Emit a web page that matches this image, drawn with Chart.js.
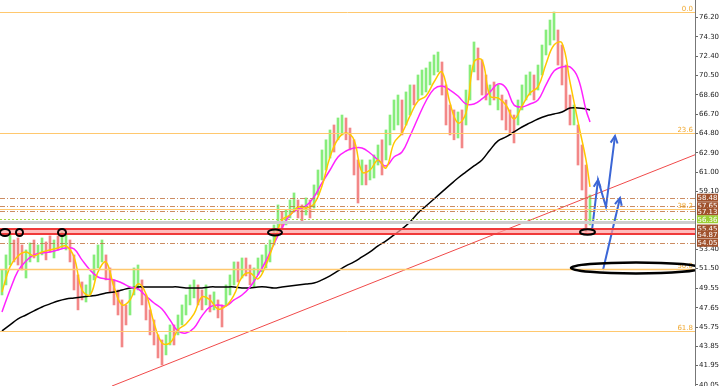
<!DOCTYPE html>
<html>
<head>
<meta charset="utf-8">
<script src="https://cdn.jsdelivr.net/npm/chart.js@4.4.1/dist/chart.umd.min.js"></script>
<style>
html,body{margin:0;padding:0;background:#fff;}
#c{display:block;}
</style>
</head>
<body>
<canvas id="c" width="720" height="386"></canvas>
<script>
// =====================
// DATA
// =====================

// one bar = low / high of a candle
let barLow = [
48.91,49.90,51.86,52.16,51.86,51.37,50.58,52.16,52.55,52.16,
52.85,52.36,53.14,52.55,53.34,53.54,53.34,52.16,49.40,47.44,
48.42,48.22,48.91,50.39,51.57,52.16,50.39,49.21,47.93,46.94,
43.79,45.96,46.94,48.91,49.40,47.93,46.45,44.98,43.99,42.71,
42.02,43.01,43.99,43.99,44.98,45.96,46.94,47.93,48.62,47.93,
47.44,47.93,47.24,47.44,46.65,45.76,47.93,48.91,49.90,50.19,
50.58,50.78,49.90,49.70,50.88,51.18,51.57,52.16,53.83,55.11,
55.50,55.80,56.49,57.08,56.49,56.10,56.78,56.49,57.47,58.75,
60.23,61.21,62.39,62.98,64.18,64.66,64.18,63.18,60.72,57.96,
59.74,59.74,60.23,60.42,61.70,60.72,62.20,63.67,65.15,65.64,
64.66,65.64,66.62,67.61,68.10,68.59,68.89,69.58,70.56,70.86,
68.59,65.64,64.66,64.18,64.36,63.38,65.64,68.10,70.86,70.07,
68.59,68.10,67.61,68.10,67.12,66.13,65.15,64.66,63.87,65.64,
67.12,68.10,68.59,68.10,69.08,70.56,72.53,73.51,74.00,71.54,
69.58,67.12,65.64,65.64,61.70,59.24,55.11,55.80
];
let barHigh = [
51.37,52.85,54.82,54.32,54.52,53.83,53.34,54.03,54.32,53.83,
54.52,54.13,54.72,54.32,54.72,55.11,54.82,54.32,52.85,50.88,
50.19,49.90,50.88,52.85,53.83,54.32,52.85,51.57,50.39,49.40,
48.42,47.93,49.40,51.57,51.86,50.39,48.91,47.44,46.45,44.98,
44.48,44.98,45.96,45.96,46.94,47.93,48.91,49.90,50.39,49.90,
49.40,49.90,48.91,49.21,48.42,47.93,49.90,50.88,52.16,52.16,
52.55,52.55,51.86,51.57,52.55,52.85,53.83,54.32,55.80,57.77,
57.08,57.28,58.26,58.95,58.26,57.77,58.46,58.26,59.74,61.21,
63.18,64.18,65.15,65.64,66.33,66.62,66.33,65.34,64.18,62.20,
62.20,61.70,62.20,62.69,63.67,64.18,65.15,66.62,68.10,68.59,
68.10,68.89,69.58,69.58,70.56,71.05,71.25,71.84,72.53,72.82,
71.84,69.58,67.61,67.12,66.92,67.12,69.08,71.54,73.81,73.22,
72.04,70.56,69.58,69.87,69.58,68.59,68.10,67.12,66.62,68.10,
69.58,70.56,70.86,70.56,71.54,73.51,74.99,75.97,76.76,74.99,
73.51,71.54,68.59,67.61,65.64,63.67,61.70,58.75
];
// u = up bar, d = down bar
let barDir = "uuuddduudu udduduuddd duuuuudddd dduuuddddd duuduuuuud " +
             "dududduuud udduuuuuuu duuudduduu uuuduudddd uduuuduuuu " +
             "duuduuuuuu dddduduuud ddududdddu uuuduuuuud dddudddu";

// moving averages, one value every 2 bars, last value on the last bar
let maFast = [
49.21,51.67,52.75,53.14,52.75,53.14,53.34,53.54,53.73,52.65,
49.40,48.91,51.18,52.16,49.70,47.93,48.42,49.99,49.01,46.16,
44.19,44.19,45.47,46.06,47.04,48.72,48.42,47.53,47.83,48.91,
50.68,51.08,50.49,51.86,54.03,56.29,56.78,57.57,57.47,57.87,
59.64,62.49,64.26,64.85,64.16,61.02,61.21,62.20,61.41,63.87,
64.85,66.53,68.00,68.49,69.87,70.86,67.80,65.84,66.82,71.84,
72.04,68.49,68.30,67.61,66.23,67.51,68.79,69.38,71.64,73.51,
73.71,69.87,65.94,62.20,59.54
];
let maMid = [
47.24,49.40,51.27,52.26,52.85,53.04,53.14,53.34,53.54,53.44,
52.36,51.37,50.68,50.49,50.39,50.09,49.70,49.50,48.81,48.12,
47.53,46.45,45.37,45.17,45.66,46.85,47.73,47.93,47.83,48.42,
48.91,49.70,50.88,52.26,53.93,55.50,56.78,57.37,57.67,58.56,
59.93,61.21,62.49,63.08,63.38,63.38,62.88,62.20,61.61,62.49,
62.98,64.56,66.33,68.00,69.18,69.48,69.08,68.49,67.71,67.71,
68.20,68.89,69.67,69.28,67.61,67.41,67.71,68.10,69.58,70.95,
71.35,71.35,70.26,67.12,65.94
];
let maSlow = [
45.37,45.96,46.55,46.94,47.34,47.73,48.03,48.32,48.52,48.62,
48.72,48.81,48.91,49.11,49.21,49.40,49.60,49.70,49.70,49.70,
49.70,49.70,49.70,49.60,49.60,49.60,49.70,49.70,49.70,49.70,
49.60,49.60,49.70,49.70,49.60,49.70,49.80,49.90,49.99,50.09,
50.39,50.78,51.27,51.77,52.16,52.65,53.14,53.73,54.23,54.82,
55.41,56.10,56.98,57.67,58.36,59.05,59.74,60.42,61.02,61.61,
62.20,63.18,64.07,64.46,64.95,65.44,65.84,66.23,66.53,66.72,
66.92,67.31,67.31,67.21,67.12
];

// price scale labels
let tickVals = [76.20,74.30,72.40,70.50,68.60,66.70,64.80,62.90,61.00,59.10,
                53.40,51.50,49.55,47.65,45.75,43.85,41.95,40.05];

// fibo retracement
let fibLevels = [76.76, 64.85, 57.38, 51.47, 45.40];
let fibNames = ["0.0", "23.6", "38.2", "50.0", "61.8"];

// horizontal levels
let dashLevels = [58.48, 57.65, 57.13, 54.05];
let greenLevel = 56.36;
let greyLevel = 56.10;
let bandTop = 55.45;
let bandBottom = 54.87;
let boxVals = [58.48, 57.65, 57.13, 56.36, 55.45, 54.87, 54.05];

// trend line
let trendX = [27.5, 173.25];
let trendY = [39.95, 62.71];

// arrows
let arrow1X = [147.5, 149, 151, 153.25];
let arrow1Y = [55.30, 60.23, 57.57, 64.56];
let arrow2X = [150.25, 154.5];
let arrow2Y = [51.37, 58.46];

// circled spots
let circleX = [0.75, 4.375, 15, 68.25, 146.375, 158.5];
let circleY = [55.06, 55.06, 55.06, 55.06, 55.10, 51.57];

// =====================
// BUILD
// =====================

let dirs = barDir.replace(/\s/g, "");
let upCol = "rgba(105,232,90,0.8)";
let dnCol = "rgba(240,105,105,0.8)";

let bars = barLow.map((lo, i) => ({x: i, y: [lo, barHigh[i]]}));
let barCols = barLow.map((lo, i) => dirs[i] === "d" ? dnCol : upCol);

function maPoints(arr){
  return arr.map((v, k) => ({x: k === arr.length - 1 ? barLow.length - 1 : k * 2, y: v}));
}
function pts(xs, ys){
  return xs.map((v, k) => ({x: v, y: ys[k]}));
}

let blue = "#3b66d6";

const overlay = {
  id: "overlay",
  afterDatasetsDraw(chart){
    const ctx = chart.ctx, a = chart.chartArea, x = chart.scales.x, y = chart.scales.y;
    ctx.save();
    ctx.beginPath();
    ctx.rect(a.left, a.top, a.right - a.left, a.bottom - a.top);
    ctx.clip();

    function hline(v, col, w, dash){
      let py = Math.round(y.getPixelForValue(v)) + (w % 2 ? 0.5 : 0);
      ctx.strokeStyle = col; ctx.lineWidth = w; ctx.setLineDash(dash);
      ctx.beginPath(); ctx.moveTo(a.left, py); ctx.lineTo(a.right, py); ctx.stroke();
    }

    hline(greyLevel, "#cfcfcf", 3, []);
    hline(greenLevel, "#a8d848", 1, [2, 2]);

    let t = y.getPixelForValue(bandTop), b = y.getPixelForValue(bandBottom);
    ctx.fillStyle = "rgba(255,160,160,0.7)";
    ctx.fillRect(a.left, t, a.right - a.left, b - t);
    hline(bandTop, "#f03a3a", 2, []);
    hline(bandBottom, "#f03a3a", 2, []);

    dashLevels.forEach(v => hline(v, "rgba(195,120,70,0.85)", 1, [5, 2, 1, 2]));

    fibLevels.forEach((v, k) => {
      hline(v, "#ffc86e", k === 3 ? 1.5 : 1, []);
      ctx.setLineDash([]);
      ctx.fillStyle = "#f0a830";
      ctx.font = "7px 'DejaVu Sans'";
      ctx.textAlign = "right"; ctx.textBaseline = "bottom";
      ctx.fillText(fibNames[k], a.right - 2, y.getPixelForValue(v) + 1);
    });

    // circles
    let rx = [5, 3.5, 4, 7, 7.5, 65], ry = [3.5, 3.5, 3.5, 3, 2.8, 5.5];
    ctx.setLineDash([]);
    ctx.strokeStyle = "#000";
    circleX.forEach((cx, k) => {
      ctx.lineWidth = k === 5 ? 2.5 : 2;
      ctx.beginPath();
      ctx.ellipse(x.getPixelForValue(cx), y.getPixelForValue(circleY[k]), rx[k], ry[k], 0, 0, Math.PI * 2);
      ctx.stroke();
    });

    // arrow heads
    function head(x0, y0, x1, y1){
      let p0x = x.getPixelForValue(x0), p0y = y.getPixelForValue(y0);
      let p1x = x.getPixelForValue(x1), p1y = y.getPixelForValue(y1);
      let ang = Math.atan2(p1y - p0y, p1x - p0x), L = 8;
      ctx.strokeStyle = blue; ctx.lineWidth = 2;
      ctx.beginPath();
      ctx.moveTo(p1x - L * Math.cos(ang - 0.45), p1y - L * Math.sin(ang - 0.45));
      ctx.lineTo(p1x, p1y);
      ctx.lineTo(p1x - L * Math.cos(ang + 0.45), p1y - L * Math.sin(ang + 0.45));
      ctx.stroke();
    }
    head(arrow1X[0], arrow1Y[0], arrow1X[1], arrow1Y[1]);
    head(arrow1X[2], arrow1Y[2], arrow1X[3], arrow1Y[3]);
    head(arrow2X[0], arrow2Y[0], arrow2X[1], arrow2Y[1]);
    ctx.restore();
  },
  afterDraw(chart){
    const ctx = chart.ctx, a = chart.chartArea, y = chart.scales.y;
    ctx.save();
    ctx.font = "7px 'DejaVu Sans'";
    ctx.textAlign = "center"; ctx.textBaseline = "middle";
    boxVals.forEach(v => {
      let py = y.getPixelForValue(v);
      ctx.fillStyle = v === greenLevel ? "#9ccf34" : "#a0522d";
      ctx.fillRect(a.right + 2, py - 4, 21, 8);
      ctx.fillStyle = "#fff";
      ctx.fillText(v.toFixed(2), a.right + 12.5, py + 0.5);
    });
    ctx.restore();
  }
};

function line(data, col, w, order, tension){
  return {type: "line", data: data, borderColor: col, borderWidth: w, pointRadius: 0,
          tension: tension, order: order, fill: false};
}

new Chart(document.getElementById("c"), {
  type: "bar",
  data: {
    datasets: [
      {data: bars, backgroundColor: barCols, borderWidth: 0, barThickness: 2, order: 6},
      line(pts(trendX, trendY), "#f04a4a", 1, 5, 0),
      line(maPoints(maSlow), "#000", 1.5, 4, 0.4),
      line(maPoints(maMid), "#ff22ff", 1.5, 3, 0.4),
      line(maPoints(maFast), "#ffc800", 1.5, 2, 0.4),
      line(pts(arrow1X, arrow1Y), blue, 2, 1, 0),
      line(pts(arrow2X, arrow2Y), blue, 2, 1, 0)
    ]
  },
  options: {
    responsive: false,
    animation: false,
    devicePixelRatio: 1,
    layout: {padding: 0},
    plugins: {legend: {display: false}, tooltip: {enabled: false}},
    scales: {
      x: {type: "linear", display: false, min: -0.5, max: 173.25, offset: false},
      y: {
        position: "right",
        min: 39.95, max: 77.94,
        afterBuildTicks(axis){ axis.ticks = tickVals.map(v => ({value: v})); },
        afterFit(scale){ scale.width = 25; scale.paddingTop = 0; scale.paddingBottom = 0; },
        grid: {drawOnChartArea: false, drawTicks: true, tickLength: 3, color: "#666"},
        border: {display: true, color: "#777", width: 1},
        ticks: {
          autoSkip: false, padding: 1, color: "#222",
          font: {family: "DejaVu Sans", size: 7},
          callback: v => Number(v).toFixed(2)
        }
      }
    }
  },
  plugins: [overlay]
});
</script>
</body>
</html>
